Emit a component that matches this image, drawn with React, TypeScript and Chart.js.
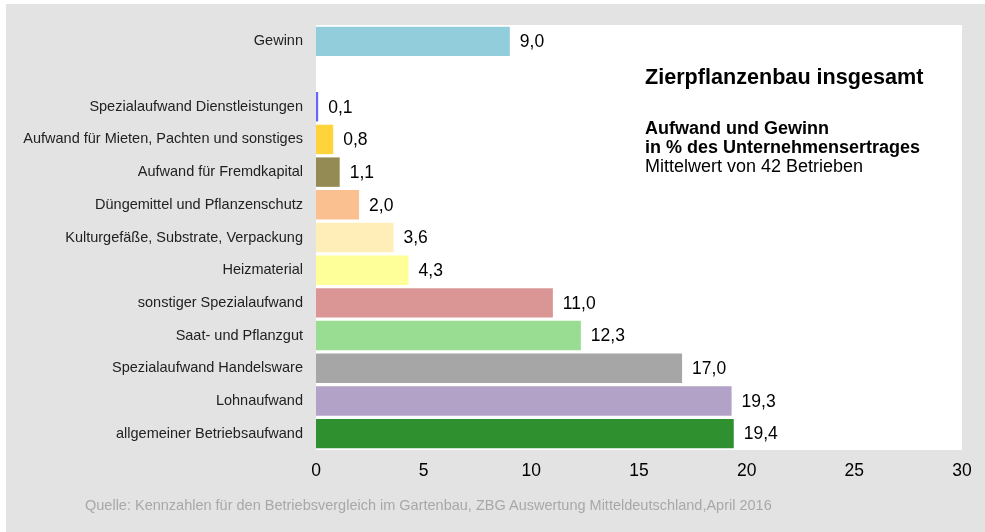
import React, { useEffect, useRef } from 'react';
import { Chart, registerables } from 'chart.js';

Chart.register(...registerables);

const categories: string[] = [
  'Gewinn',
  '',
  'Spezialaufwand Dienstleistungen',
  'Aufwand für Mieten, Pachten und sonstiges',
  'Aufwand für Fremdkapital',
  'Düngemittel und Pflanzenschutz',
  'Kulturgefäße, Substrate, Verpackung',
  'Heizmaterial',
  'sonstiger Spezialaufwand',
  'Saat- und Pflanzgut',
  'Spezialaufwand Handelsware',
  'Lohnaufwand',
  'allgemeiner Betriebsaufwand',
];

const values: (number | null)[] = [9.0, null, 0.1, 0.8, 1.1, 2.0, 3.6, 4.3, 11.0, 12.3, 17.0, 19.3, 19.4];

const barColors: string[] = [
  '#92cddc',
  '#ffffff',
  '#6666ff',
  '#ffd43b',
  '#948a54',
  '#fac090',
  '#ffeeb8',
  '#ffff99',
  '#d99694',
  '#99dd92',
  '#a6a6a6',
  '#b3a2c7',
  '#2f902f',
];

const xMin = 0;
const xMax = 30;
const xStep = 5;

const titleText = 'Zierpflanzenbau insgesamt';
const subtitleBold1 = 'Aufwand und Gewinn';
const subtitleBold2 = 'in % des Unternehmensertrages';
const subtitleNormal = 'Mittelwert von 42 Betrieben';
const sourceText = 'Quelle: Kennzahlen für den Betriebsvergleich im Gartenbau, ZBG Auswertung Mitteldeutschland,April 2016';

const FONT = "'Liberation Sans', Arial, Helvetica, sans-serif";

export default function App() {
  const canvasRef = useRef<HTMLCanvasElement | null>(null);

  useEffect(() => {
    const canvas = canvasRef.current;
    if (!canvas) return;

    const plotBg = {
      id: 'plotBg',
      beforeDraw(chart: any) {
        const { ctx, chartArea } = chart;
        ctx.save();
        ctx.fillStyle = '#ffffff';
        ctx.fillRect(chartArea.left, chartArea.top, chartArea.right - chartArea.left, chartArea.bottom - chartArea.top);
        ctx.restore();
      },
    };

    const valueLabels = {
      id: 'valueLabels',
      afterDatasetsDraw(chart: any) {
        const { ctx } = chart;
        const meta = chart.getDatasetMeta(0);
        ctx.save();
        ctx.fillStyle = '#000000';
        ctx.font = `17.5px ${FONT}`;
        ctx.textAlign = 'left';
        ctx.textBaseline = 'middle';
        meta.data.forEach((bar: any, i: number) => {
          const v = values[i];
          if (v === null || v === undefined) return;
          ctx.fillText(v.toFixed(1).replace('.', ','), bar.x + 10, bar.y + 1);
        });
        ctx.restore();
      },
    };

    const chart = new Chart(canvas, {
      type: 'bar',
      data: {
        labels: categories,
        datasets: [
          {
            data: values as any,
            backgroundColor: barColors,
            borderWidth: 0,
            barPercentage: 0.9,
            categoryPercentage: 1.0,
          },
        ],
      },
      options: {
        indexAxis: 'y',
        responsive: false,
        animation: false,
        devicePixelRatio: 1,
        layout: { padding: { left: 0, right: 23, top: 25, bottom: 0 } },
        plugins: {
          legend: { display: false },
          tooltip: { enabled: false },
          title: { display: false },
        },
        scales: {
          x: {
            type: 'linear',
            min: xMin,
            max: xMax,
            ticks: {
              stepSize: xStep,
              color: '#000000',
              font: { family: FONT, size: 17.5 },
              padding: 11,
            },
            grid: { display: false, drawTicks: false },
            border: { display: false },
            afterFit(scale: any) {
              scale.height = 82;
            },
          },
          y: {
            type: 'category',
            ticks: {
              color: '#222222',
              font: { family: FONT, size: 14.5 },
              padding: 13,
              autoSkip: false,
            },
            grid: { display: false, drawTicks: false },
            border: { display: false },
            afterFit(scale: any) {
              scale.width = 316;
            },
          },
        },
      },
      plugins: [plotBg, valueLabels],
    });

    return () => {
      chart.destroy();
    };
  }, []);

  return (
    <div style={{ position: 'fixed', left: 0, top: 0, width: 985, height: 532, background: '#ffffff', fontFamily: FONT }}>
      <div style={{ position: 'absolute', left: 6, top: 4, width: 979, height: 528, background: '#e3e3e3' }} />
      <canvas ref={canvasRef} width={985} height={532} style={{ position: 'absolute', left: 0, top: 0, width: 985, height: 532 }} />
      <div style={{ position: 'absolute', left: 645, top: 66, fontSize: 21.6, lineHeight: '22px', fontWeight: 'bold', color: '#000', whiteSpace: 'nowrap' }}>
        {titleText}
      </div>
      <div style={{ position: 'absolute', left: 645, top: 119, fontSize: 18, lineHeight: '19px', color: '#000', whiteSpace: 'nowrap' }}>
        <div style={{ fontWeight: 'bold' }}>{subtitleBold1}</div>
        <div style={{ fontWeight: 'bold' }}>{subtitleBold2}</div>
        <div>{subtitleNormal}</div>
      </div>
      <div style={{ position: 'absolute', left: 85, top: 497, fontSize: 14.5, lineHeight: '17px', color: '#a8a8a8', whiteSpace: 'nowrap' }}>
        {sourceText}
      </div>
    </div>
  );
}
